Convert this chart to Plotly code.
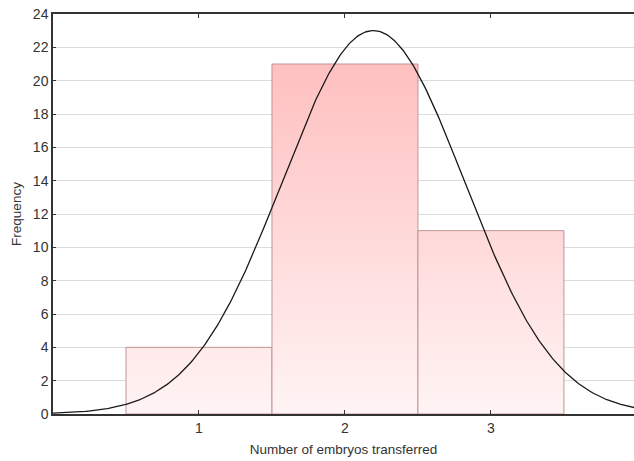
import numpy as np
import plotly.graph_objects as go

categories = [1, 2, 3]
frequencies = [4, 21, 11]
y_ticks = list(range(0, 25, 2))
x_ticks = [1, 2, 3]

# fitted normal curve from the data (sample standard deviation)
vals = np.array(categories, dtype=float)
freq = np.array(frequencies, dtype=float)
n = freq.sum()
mean = (vals * freq).sum() / n
sd = np.sqrt(((vals - mean) ** 2 * freq).sum() / (n - 1))
xs = np.linspace(0, 4, 400)
ys = n * 1.0 * np.exp(-0.5 * ((xs - mean) / sd) ** 2) / (sd * np.sqrt(2 * np.pi))

fig = go.Figure()
for c, f in zip(categories, frequencies):
    x0, x1 = c - 0.5, c + 0.5
    fig.add_trace(go.Scatter(
        x=[x0, x1, x1, x0, x0], y=[0, 0, f, f, 0],
        mode="lines", fill="toself",
        line=dict(color="#c09494", width=1),
        fillgradient=dict(type="vertical", start=0, stop=24,
                          colorscale=[[0, "#fff4f4"], [1, "#ffb8b8"]]),
        hoverinfo="skip", showlegend=False))

fig.add_trace(go.Scatter(x=xs, y=ys, mode="lines",
                         line=dict(color="#1a1a1a", width=1.3),
                         showlegend=False))

fig.update_layout(
    width=634, height=461,
    margin=dict(l=53, r=0, t=14, b=47),
    paper_bgcolor="white", plot_bgcolor="white",
    font=dict(family="Liberation Sans, Arial, sans-serif", size=12, color="#333"),
    xaxis=dict(range=[0, 3.98], tickvals=x_ticks, ticks="inside", ticklen=4,
               tickcolor="#333", showgrid=False, zeroline=False, automargin=False,
               showline=True, linecolor="#333", linewidth=1.5, mirror="ticks",
               tickfont=dict(size=14),
               title=dict(text="Number of embryos transferred", standoff=10,
                          font=dict(size=13.5))),
    yaxis=dict(range=[0, 24], tickvals=y_ticks, ticks="inside", ticklen=3,
               tickcolor="#333", showgrid=True, gridcolor="#dcdcdc", gridwidth=1,
               zeroline=False, showline=True, linecolor="#333", linewidth=1.5,
               automargin=False, tickfont=dict(size=14),
               title=dict(text="Frequency", standoff=8, font=dict(size=13.5))),
)

fig.write_html("out.html", config={"displayModeBar": False},
               post_script="document.body.style.margin='0';document.body.style.overflow='hidden';")
